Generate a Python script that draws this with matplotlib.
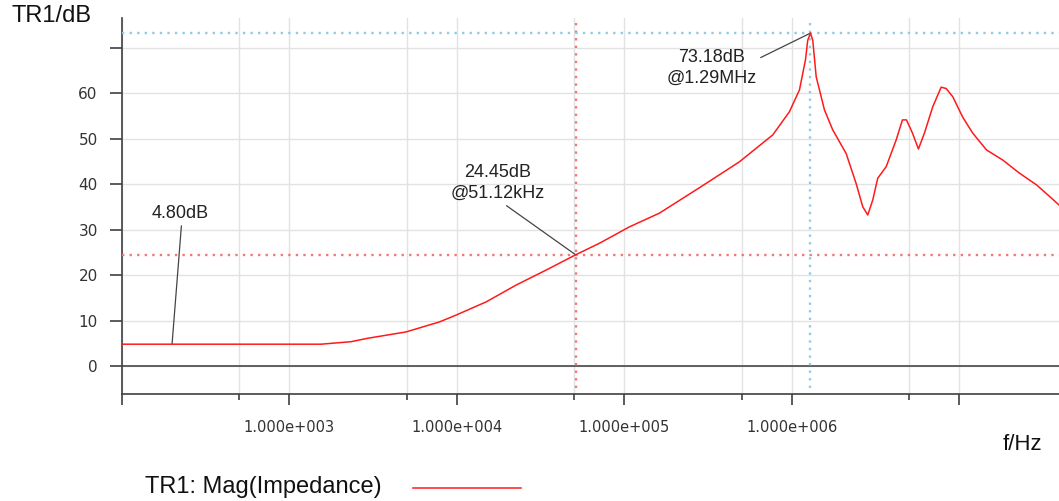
import matplotlib
matplotlib.use("Agg")
import matplotlib.pyplot as plt

# TR1: Mag(Impedance) — resimden okunan noktalar (Hz, dB)
freq_hz = [100, 1545, 2334, 2932, 4972, 7870, 9886, 1.494e4, 2.256e4, 3.41e4,
           5.112e4, 7.1e4, 1.072e5, 1.616e5, 2.805e5, 4.86e5, 7.68e5, 9.66e5,
           1.109e6, 1.204e6, 1.242e6, 1.29e6, 1.331e6, 1.395e6, 1.563e6,
           1.752e6, 2.107e6, 2.417e6, 2.647e6, 2.835e6, 3.037e6, 3.253e6,
           3.651e6, 4.19e6, 4.567e6, 4.826e6, 5.243e6, 5.69e6, 6.18e6,
           6.93e6, 7.78e6, 8.33e6, 9.12e6, 1.046e7, 1.2e7, 1.45e7, 1.81e7,
           2.28e7, 2.89e7, 3.47e7, 3.93e7]
mag_db = [4.80, 4.80, 5.35, 6.1, 7.5, 9.7, 11.2, 14.1, 17.8, 21.1,
          24.45, 27.0, 30.6, 33.6, 39.2, 44.9, 50.8, 55.9,
          60.7, 67.3, 71.6, 73.18, 71.6, 63.6, 56.3,
          51.9, 46.7, 40.1, 35.0, 33.2, 36.5, 41.3,
          43.8, 49.7, 54.1, 54.1, 51.2, 47.7, 51.2,
          57.0, 61.3, 61.0, 59.2, 54.7, 51.2, 47.5, 45.3,
          42.4, 39.8, 37.2, 35.4]

# marker'lar
m0_f, m0_db = 199, 4.80
m1_f, m1_db = 51.12e3, 24.45
m2_f, m2_db = 1.29e6, 73.18

yticks = [0, 10, 20, 30, 40, 50, 60, 70]
ytick_labels = ["0", "10", "20", "30", "40", "50", "60", ""]
xticks_major = [1e2, 1e3, 1e4, 1e5, 1e6, 1e7]
xtick_labels = ["", "1.000e+003", "1.000e+004", "1.000e+005", "1.000e+006", ""]
xticks_minor = [5e2, 5e3, 5e4, 5e5, 5e6]

AX_C = "#404040"
GRID_C = "#e2e2e2"
RED = "#ff1a1a"
MRED = "#f07878"
MBLUE = "#92cbe3"
ARIAL = "Liberation Sans"
DOTS = (0, (1, 2.2))

fig = plt.figure(figsize=(10.59, 5.01), dpi=100)
ax = fig.add_axes([122 / 1059, 1 - 394 / 501, 1 - 122 / 1059, 376 / 501])

ax.set_xscale("log")
ax.set_xlim(100, 3.93e7)
ax.set_ylim(-6.15, 76.5)

ax.set_xticks(xticks_major)
ax.set_xticklabels(xtick_labels)
ax.set_xticks(xticks_minor, minor=True)
ax.set_xticklabels([""] * len(xticks_minor), minor=True)
ax.set_yticks(yticks)
ax.set_yticklabels(ytick_labels)

ax.grid(True, which="both", axis="x", color=GRID_C, linewidth=1)
ax.grid(True, which="major", axis="y", color=GRID_C, linewidth=1)
ax.set_axisbelow(True)

for s in ("top", "right"):
    ax.spines[s].set_visible(False)
for s in ("left", "bottom"):
    ax.spines[s].set_color(AX_C)
    ax.spines[s].set_linewidth(1.2)

ax.tick_params(axis="x", which="major", direction="out", length=8, width=1.2,
               color=AX_C, labelsize=10.5, labelcolor="#333333", pad=11)
ax.tick_params(axis="x", which="minor", direction="out", length=4.5, width=1.2,
               color=AX_C)
ax.tick_params(axis="y", which="major", direction="out", length=8.5, width=1.2,
               color=AX_C, labelsize=11, labelcolor="#333333", pad=9)

ax.axhline(0, color="#555555", linewidth=1.3, zorder=2)

# marker çizgileri
ax.axvline(m1_f, ymin=0.016, color=MRED, linestyle=DOTS, linewidth=1.7, zorder=3)
ax.axhline(m1_db, color=MRED, linestyle=DOTS, linewidth=1.7, zorder=3)
ax.axvline(m2_f, ymin=0.016, color=MBLUE, linestyle=DOTS, linewidth=1.7, zorder=3)
ax.axhline(m2_db, color=MBLUE, linestyle=DOTS, linewidth=1.7, zorder=3)

ax.plot(freq_hz, mag_db, color=RED, linewidth=1.1, zorder=4)

arrow = dict(arrowstyle="-", color="#444444", lw=0.9, shrinkA=1, shrinkB=0)
ax.annotate(f"{m0_db:.2f}dB", xy=(m0_f, m0_db), xytext=(222, 33.6),
            ha="center", va="center", fontsize=13, family=ARIAL,
            color="#222222", arrowprops=dict(arrow, relpos=(0.53, 0.0)))
ax.annotate(f"{m1_db:.2f}dB\n@{m1_f / 1e3:.2f}kHz", xy=(m1_f, m1_db),
            xytext=(1.75e4, 40.2), ha="center", va="center", fontsize=13,
            family=ARIAL, color="#222222", linespacing=1.3,
            arrowprops=dict(arrow, relpos=(0.54, 0.0)))
ax.annotate(f"{m2_db:.2f}dB\n@{m2_f / 1e6:.2f}MHz", xy=(m2_f, m2_db),
            xytext=(3.31e5, 65.6), ha="center", va="center", fontsize=13,
            family=ARIAL, color="#222222", linespacing=1.3,
            arrowprops=dict(arrow, relpos=(0.93, 0.63)))

fig.text(12 / 1059, 1 - 16 / 501, "TR1/dB", fontsize=17, family=ARIAL,
         color="#111111", ha="left", va="center")
fig.text(1042 / 1059, 1 - 445 / 501, "f/Hz", fontsize=16, family=ARIAL,
         color="#111111", ha="right", va="center")
fig.text(145 / 1059, 1 - 487 / 501, "TR1: Mag(Impedance)", fontsize=17,
         family=ARIAL, color="#111111", ha="left", va="center")
fig.add_artist(plt.Line2D([413 / 1059, 521 / 1059], [1 - 488 / 501] * 2,
                          color=RED, linewidth=1.1, transform=fig.transFigure))

fig.savefig("out.png", dpi=100)
